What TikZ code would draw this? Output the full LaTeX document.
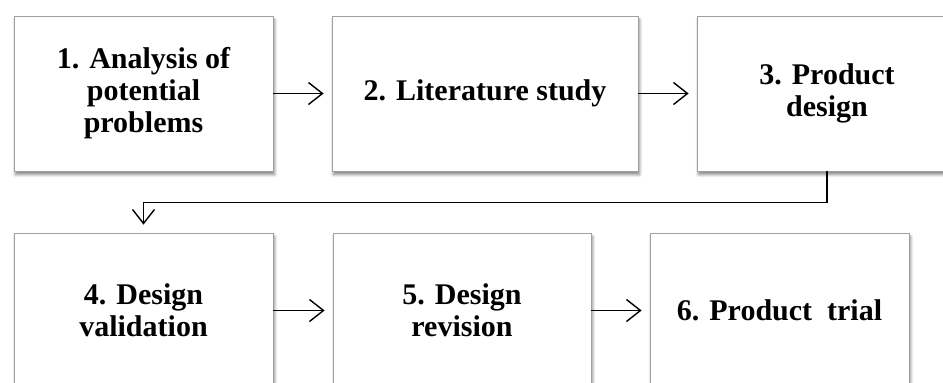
\documentclass[tikz,border=0pt]{standalone}
\usepackage{fontspec}
\setmainfont{Liberation Serif}
\usetikzlibrary{shadows.blur,arrows.meta}

\tikzset{
  stepbox/.style={draw=gray!75, line width=0.8pt, fill=white, align=center,
    font=\fontsize{30}{32}\selectfont\bfseries, minimum height=155pt,
    blur shadow={shadow xshift=1.5pt, shadow yshift=-3.5pt, shadow blur steps=6,
      shadow blur radius=3pt, shadow opacity=50}},
  flow/.style={line width=1.4pt, shorten >=8pt,
    -{Straight Barb[length=14pt, width=22pt, line width=1.4pt]}}
}

\begin{document}
\begin{tikzpicture}[x=1pt, y=-1pt]

  \useasboundingbox (0,0) rectangle (943,383);
  \clip (0,0) rectangle (943,383);

  % first row
  \node[stepbox, minimum width=259pt] (analysis) at (143.5,93.5)
    {1. Analysis of\\potential\\problems};
  \node[stepbox, minimum width=306pt] (literature) at (485,93.5)
    {2. Literature study};
  \node[stepbox, minimum width=260pt] (design) at (827,93.5)
    {3. Product\\design};

  % second row
  \node[stepbox, minimum width=259pt] (validation) at (143.5,310.5)
    {4. Design\\validation};
  \node[stepbox, minimum width=258pt] (revision) at (462,310.5)
    {5. Design\\revision};
  \node[stepbox, minimum width=259pt] (trial) at (779.5,310.5)
    {6. Product~~trial};

  % connectors
  \draw[flow] (analysis) -- (literature);
  \draw[flow] (literature) -- (design);
  \draw[flow] (design.south) -- ++(0,31) -| (validation.north);
  \draw[flow] (validation) -- (revision);
  \draw[flow] (revision) -- (trial);

\end{tikzpicture}
\end{document}
